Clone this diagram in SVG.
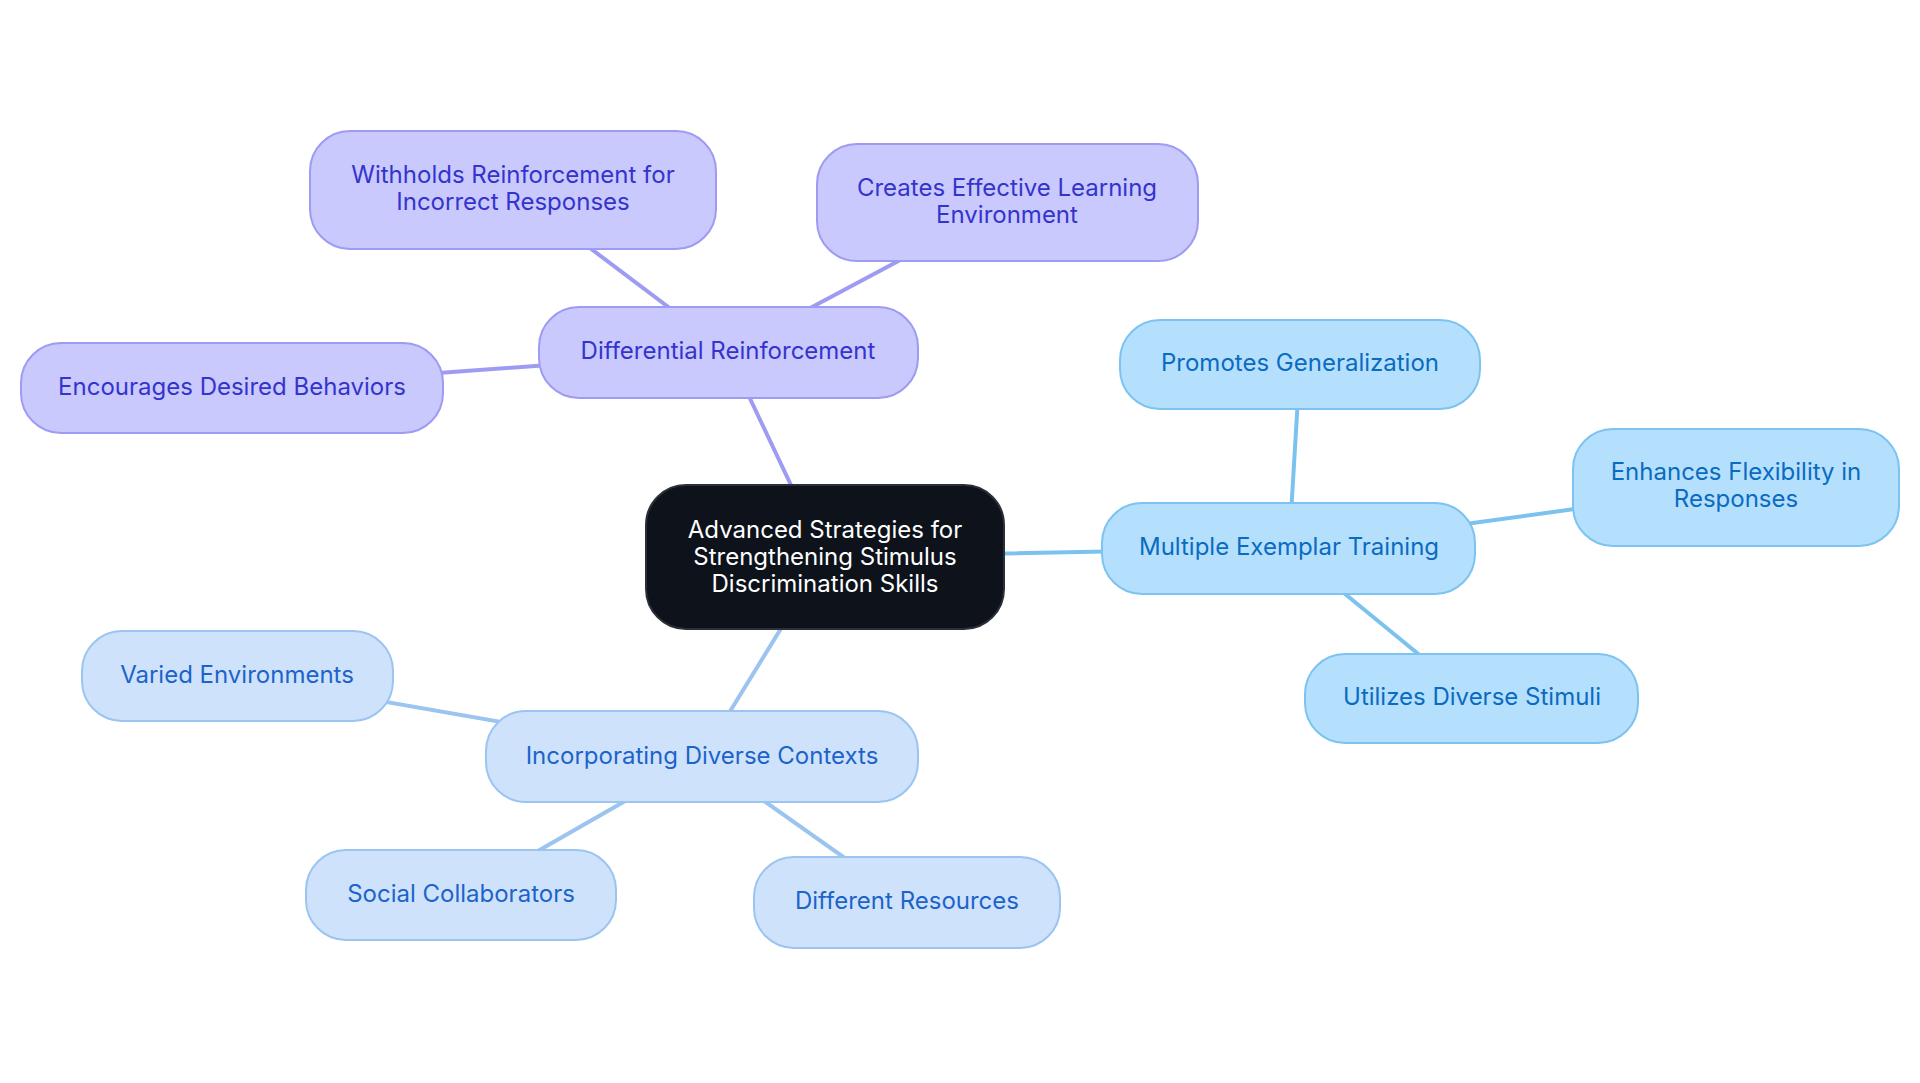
<svg xmlns="http://www.w3.org/2000/svg" width="1920" height="1083" viewBox="0 0 1920 1083">
<style>
  .t { font-family: Inter, "Noto Sans", "Liberation Sans", sans-serif; font-size: 24px; text-anchor: middle; }
  .root rect { fill: #0d121b; stroke: #2a2f38; stroke-width: 2; }
  .root text { fill: #ffffff; }
  .pur rect { fill: #c9c9fd; stroke: #9d9bf2; stroke-width: 2; }
  .pur text { fill: #3434cc; }
  .lbl rect { fill: #cee3fb; stroke: #9bc4f0; stroke-width: 2; }
  .lbl text { fill: #1d63c9; }
  .blu rect { fill: #b5e0fd; stroke: #7cc3f0; stroke-width: 2; }
  .blu text { fill: #0a6bc0; }
  .e { stroke-width: 4; fill: none; stroke-linecap: round; }
  .ep { stroke: #9e9cf2; }
  .el { stroke: #9cc4f0; }
  .eb { stroke: #7cc2ef; }
</style>
<rect width="1920" height="1083" fill="#ffffff"/>
<g id="connectors">
  <line class="e ep" x1="825" y1="557" x2="728" y2="352"/>
  <line class="e ep" x1="728" y1="352" x2="513" y2="190"/>
  <line class="e ep" x1="728" y1="352" x2="1007" y2="203"/>
  <line class="e ep" x1="728" y1="352" x2="232" y2="388"/>
  <line class="e eb" x1="825" y1="557" x2="1289" y2="548"/>
  <line class="e eb" x1="1289" y1="548" x2="1300" y2="364"/>
  <line class="e eb" x1="1289" y1="548" x2="1736" y2="487"/>
  <line class="e eb" x1="1289" y1="548" x2="1472" y2="698"/>
  <line class="e el" x1="825" y1="557" x2="702" y2="757"/>
  <line class="e el" x1="702" y1="757" x2="237" y2="676"/>
  <line class="e el" x1="702" y1="757" x2="461" y2="895"/>
  <line class="e el" x1="702" y1="757" x2="907" y2="902"/>
</g>
<g id="root" class="root">
  <rect x="646" y="485" width="358" height="144" rx="40"/>
  <text class="t" x="825" y="538">Advanced Strategies for</text>
  <text class="t" x="825" y="565">Strengthening Stimulus</text>
  <text class="t" x="825" y="592">Discrimination Skills</text>
</g>
<g id="differential" class="pur">
  <rect x="539" y="307" width="379" height="91" rx="40"/>
  <text class="t" x="728" y="359">Differential Reinforcement</text>
</g>
<g id="withholds" class="pur">
  <rect x="310" y="131" width="406" height="118" rx="40"/>
  <text class="t" x="513" y="183">Withholds Reinforcement for</text>
  <text class="t" x="513" y="210">Incorrect Responses</text>
</g>
<g id="creates" class="pur">
  <rect x="817" y="144" width="381" height="117" rx="40"/>
  <text class="t" x="1007" y="196">Creates Effective Learning</text>
  <text class="t" x="1007" y="223">Environment</text>
</g>
<g id="encourages" class="pur">
  <rect x="21" y="343" width="422" height="90" rx="40"/>
  <text class="t" x="232" y="395">Encourages Desired Behaviors</text>
</g>
<g id="multiple" class="blu">
  <rect x="1102" y="503" width="373" height="91" rx="40"/>
  <text class="t" x="1289" y="555">Multiple Exemplar Training</text>
</g>
<g id="promotes" class="blu">
  <rect x="1120" y="320" width="360" height="89" rx="40"/>
  <text class="t" x="1300" y="371">Promotes Generalization</text>
</g>
<g id="enhances" class="blu">
  <rect x="1573" y="429" width="326" height="117" rx="40"/>
  <text class="t" x="1736" y="480">Enhances Flexibility in</text>
  <text class="t" x="1736" y="507">Responses</text>
</g>
<g id="utilizes" class="blu">
  <rect x="1305" y="654" width="333" height="89" rx="40"/>
  <text class="t" x="1472" y="705">Utilizes Diverse Stimuli</text>
</g>
<g id="incorporating" class="lbl">
  <rect x="486" y="711" width="432" height="91" rx="40"/>
  <text class="t" x="702" y="764">Incorporating Diverse Contexts</text>
</g>
<g id="varied" class="lbl">
  <rect x="82" y="631" width="311" height="90" rx="40"/>
  <text class="t" x="237" y="683">Varied Environments</text>
</g>
<g id="social" class="lbl">
  <rect x="306" y="850" width="310" height="90" rx="40"/>
  <text class="t" x="461" y="902">Social Collaborators</text>
</g>
<g id="resources" class="lbl">
  <rect x="754" y="857" width="306" height="91" rx="40"/>
  <text class="t" x="907" y="909">Different Resources</text>
</g>
</svg>
